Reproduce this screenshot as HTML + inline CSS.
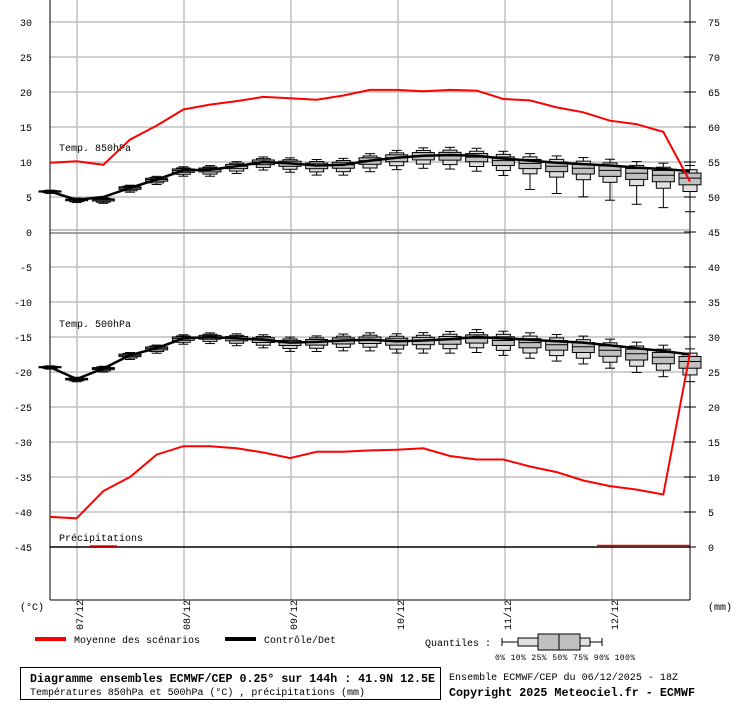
<!DOCTYPE html>
<html><head><meta charset="utf-8"><style>
body{margin:0;background:#fff;width:740px;height:700px;overflow:hidden;font-family:"Liberation Mono",monospace;}
</style></head><body>
<svg id="s" width="740" height="700" xmlns="http://www.w3.org/2000/svg" font-family="Liberation Mono, monospace" font-size="10"></svg>
<script>
const S=document.getElementById('s');let h='';
const X=i=>50+i*(640/24);const Y=v=>232-7*v;
for(let v=30;v>=-45;v-=5){ if(v===0||v===-45)continue; h+=`<line x1="50" x2="690" y1="${Y(v)}" y2="${Y(v)}" stroke="#c0c0c0" stroke-width="1.5"/>`;}
[77,184,291,398,505,612].forEach(x=>h+=`<line x1="${x}" x2="${x}" y1="0" y2="600" stroke="#c0c0c0" stroke-width="1.5"/>`);
h+=`<line x1="50" x2="690" y1="230" y2="230" stroke="#b0b0b0" stroke-width="1.5"/><line x1="50" x2="690" y1="233" y2="233" stroke="#808080" stroke-width="1.5"/>`;
h+=`<line x1="50" x2="50" y1="0" y2="600" stroke="#000"/><line x1="690" x2="690" y1="0" y2="600" stroke="#000"/><line x1="50" x2="690" y1="600" y2="600" stroke="#000"/>`;
h+=`<line x1="50" x2="690" y1="547" y2="547" stroke="#000" stroke-width="1.5"/>`;
for(let v=30;v>=-45;v-=5){h+=`<text x="32" y="${Y(v)+4}" text-anchor="end">${v}</text>`;
 h+=`<text x="708" y="${Y(v)+4}">${v+45}</text><line x1="684" x2="696" y1="${Y(v)}" y2="${Y(v)}" stroke="#000"/>`;}
h+=`<text x="20" y="610">(°C)</text><text x="708" y="610">(mm)</text>`;
[[77,'07/12'],[184,'08/12'],[291,'09/12'],[398,'10/12'],[505,'11/12'],[612,'12/12']].forEach(([x,t])=>h+=`<text transform="translate(${x+6},615) rotate(-90)" text-anchor="middle">${t}</text>`);
h+=`<text x="59" y="151">Temp. 850hPa</text><text x="59" y="327">Temp. 500hPa</text><text x="59" y="541">Précipitations</text>`;
const c850=[5.8,4.6,5.0,6.3,7.5,8.8,8.9,9.4,10.0,9.8,9.5,9.6,10.2,10.6,10.9,11.0,10.9,10.5,10.2,9.9,9.7,9.5,9.2,9.0,8.7];
const m850=[9.9,10.1,9.6,13.2,15.2,17.5,18.2,18.7,19.3,19.1,18.9,19.5,20.3,20.3,20.1,20.3,20.2,19.0,18.8,17.8,17.1,15.9,15.4,14.3,7.2];
const c500=[-19.3,-21.0,-19.5,-17.6,-16.6,-15.2,-15.0,-15.2,-15.4,-15.8,-15.7,-15.5,-15.4,-15.6,-15.5,-15.3,-15.0,-15.2,-15.4,-15.6,-15.8,-16.2,-16.6,-17.0,-17.5];
const m500=[-40.7,-40.9,-37,-35,-31.8,-30.6,-30.6,-30.9,-31.5,-32.3,-31.4,-31.4,-31.2,-31.1,-30.9,-32,-32.5,-32.5,-33.5,-34.3,-35.5,-36.3,-36.8,-37.5,-17.3];
function boxes(c,sk){for(let i=0;i<25;i++){const s=0.12+i*0.045,x=X(i);let md=c[i]-(i>14?(i-14)*0.1:0)+(i===2&&sk?-0.4:0);
 const q=[md-s*2.4-(i>17&&sk?s*1.6:0),md-s*1.6,md-s*0.8,md,md+s*0.6,md+s*1,md+s*1.5].map(Y);
 h+=`<line x1="${x}" x2="${x}" y1="${q[0]}" y2="${q[6]}" stroke="#000"/><line x1="${x-5}" x2="${x+5}" y1="${q[0]}" y2="${q[0]}" stroke="#000"/><line x1="${x-5}" x2="${x+5}" y1="${q[6]}" y2="${q[6]}" stroke="#000"/>`;
 h+=`<rect x="${x-7}" y="${q[5]}" width="14" height="${q[1]-q[5]}" fill="#e0e0e0" stroke="#000"/>`;
 h+=`<rect x="${x-11}" y="${q[4]}" width="22" height="${q[2]-q[4]}" fill="#c0c0c0" stroke="#000"/><line x1="${x-11}" x2="${x+11}" y1="${q[3]}" y2="${q[3]}" stroke="#000"/>`;}}
boxes(c850,1);boxes(c500,0);
const pl=(a,col,w)=>`<polyline fill="none" stroke="${col}" stroke-width="${w}" points="${a.map((v,i)=>X(i)+','+Y(v)).join(' ')}"/>`;
h+=pl(c850,'#000',2.5)+pl(c500,'#000',2.5)+pl(m850,'#f00',2)+pl(m500,'#f00',2);
h+=`<line x1="90" x2="117" y1="546" y2="546" stroke="#f00" stroke-width="1.5"/><line x1="597" x2="690" y1="545.5" y2="545.5" stroke="#f00" stroke-width="1.5"/>`;
h+=`<rect x="35" y="637" width="31" height="4" fill="#f00"/><text x="74" y="643" textLength="126">Moyenne des scénarios</text>`;
h+=`<rect x="225" y="637" width="31" height="4" fill="#000"/><text x="264" y="643" textLength="72">Contrôle/Det</text>`;
h+=`<text x="425" y="646" textLength="66">Quantiles :</text><line x1="502" x2="602" y1="642" y2="642" stroke="#000"/><line x1="502" x2="502" y1="638" y2="646" stroke="#000"/><line x1="602" x2="602" y1="638" y2="646" stroke="#000"/>`;
h+=`<rect x="518" y="638" width="72" height="8" fill="#e0e0e0" stroke="#000"/><rect x="538" y="634" width="42" height="16" fill="#c0c0c0" stroke="#000"/><line x1="559" x2="559" y1="634" y2="650" stroke="#000"/>`;
h+=`<text x="495" y="660" font-size="8" textLength="140">0%  10% 25% 50% 75% 90% 100%</text>`;
h+=`<rect x="20.5" y="667.5" width="420" height="32" fill="#fff" stroke="#000"/>`;
h+=`<text x="30" y="682" font-weight="bold" font-size="12" textLength="405" lengthAdjust="spacingAndGlyphs">Diagramme ensembles ECMWF/CEP 0.25° sur 144h : 41.9N 12.5E</text>`;
h+=`<text x="30" y="695" textLength="335">Températures 850hPa et 500hPa (°C) , précipitations (mm)</text>`;
h+=`<text x="449" y="680" textLength="229">Ensemble ECMWF/CEP du 06/12/2025 - 18Z</text><text x="449" y="696" font-weight="bold" font-size="12" textLength="246" lengthAdjust="spacingAndGlyphs">Copyright 2025 Meteociel.fr - ECMWF</text>`;
S.innerHTML=h;
</script></body></html>
